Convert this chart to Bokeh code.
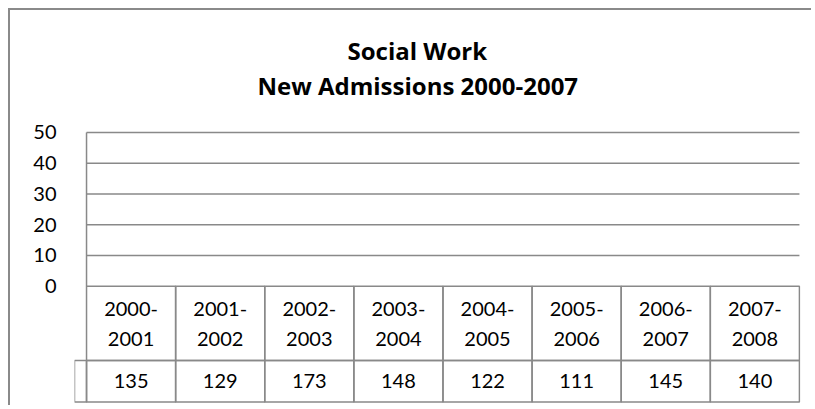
from bokeh.plotting import figure
from bokeh.models import FixedTicker, Title, Range1d, LinearAxis
from bokeh.embed import file_html
from bokeh.resources import INLINE
from bokeh.core.properties import value

# ---- data ----
categories = ["2000-2001", "2001-2002", "2002-2003", "2003-2004",
              "2004-2005", "2005-2006", "2006-2007", "2007-2008"]
admissions = [135, 129, 173, 148, 122, 111, 145, 140]
y_ticks = [0, 10, 20, 30, 40, 50]
title_lines = ["Social Work", "New Admissions 2000-2007"]

# ---- style / layout ----
GRID = "#898989"
FONT = "Lato"
TFONT = "Open Sans"
KEY_W = 0.135          # width of the legend-key column of the data table
ROW1 = -24.2           # bottom of category row (data units)
ROW2 = -37.7           # bottom of value row
n = len(categories)

p = figure(width=803, height=397, output_backend="svg", toolbar_location=None,
           x_range=Range1d(-KEY_W, n + 0.012), y_range=Range1d(-38.5, 50.65),
           x_axis_location=None, title=None,
           min_border_left=64, min_border_right=13,
           min_border_top=120, min_border_bottom=3)
# outer chart-area border (runs past the window on the right and bottom)
p.styles = {"vertical-align": "top", "margin-left": "8px", "margin-top": "8px",
            "border-left": "2px solid #8a8a8a", "border-top": "2px solid #8a8a8a"}
p.outline_line_color = None
p.xgrid.visible = False
p.ygrid.visible = False
p.background_fill_color = "white"
p.border_fill_color = "white"

ax = p.yaxis[0]
ax.ticker = FixedTicker(ticks=y_ticks)
ax.axis_line_color = None
ax.major_tick_line_color = None
ax.minor_tick_line_color = None
ax.major_label_standoff = 12
ax.major_label_text_font = FONT
ax.major_label_text_font_size = "20px"
ax.major_label_text_color = "black"

# blank spacer panel between plot and titles (invisible tick, empty label)
gap = LinearAxis(ticker=FixedTicker(ticks=[0]), axis_line_color=None,
                 major_tick_line_color=None, minor_tick_line_color=None,
                 major_tick_in=0, major_tick_out=29, minor_tick_out=0,
                 major_label_standoff=0, major_label_text_font_size="1px",
                 major_label_overrides={0: ""})
p.add_layout(gap, "above")

# titles: panels stack upward from the plot in the order they are added
t2 = Title(text=title_lines[1], align="left", offset=183, standoff=0,
           text_font=TFONT, text_font_size="24px", text_font_style="bold",
           text_color="black")
t1 = Title(text=title_lines[0], align="left", offset=273, standoff=0,
           text_font=TFONT, text_font_size="24px", text_font_style="bold",
           text_color="black")
p.add_layout(t2, "above")
p.add_layout(t1, "above")

# gridlines and value-axis line
gy = [t for t in y_ticks if t > 0]
p.segment(x0=[0] * len(gy), y0=gy, x1=[n] * len(gy), y1=gy,
          line_color=GRID, line_width=1.5)
p.segment(x0=[0], y0=[min(y_ticks)], x1=[0], y1=[max(y_ticks)],
          line_color=GRID, line_width=1.5)

# data table
idx = list(range(n))
right = [i + 1 for i in idx]
p.quad(left=idx, right=right, top=0, bottom=ROW1,
       fill_color=None, line_color=GRID, line_width=1.5)
p.quad(left=idx, right=right, top=ROW1, bottom=ROW2,
       fill_color=None, line_color=GRID, line_width=1.5)
p.quad(left=[-KEY_W], right=[0], top=ROW1, bottom=ROW2,
       fill_color=None, line_color=GRID, line_width=1.5)

centers = [i + 0.5 for i in idx]
p.text(x=centers, y=[ROW1 / 2] * n,
       text=[c.replace("-", "-\n") for c in categories],
       text_font=value(FONT), text_font_size="20px", text_color="black",
       text_align="center", text_baseline="middle", text_line_height=1.25)
p.text(x=centers, y=[(ROW1 + ROW2) / 2] * n,
       text=[str(v) for v in admissions],
       text_font=value(FONT), text_font_size="20px", text_color="black",
       text_align="center", text_baseline="middle")

open("out.html", "w").write(file_html(p, INLINE))
